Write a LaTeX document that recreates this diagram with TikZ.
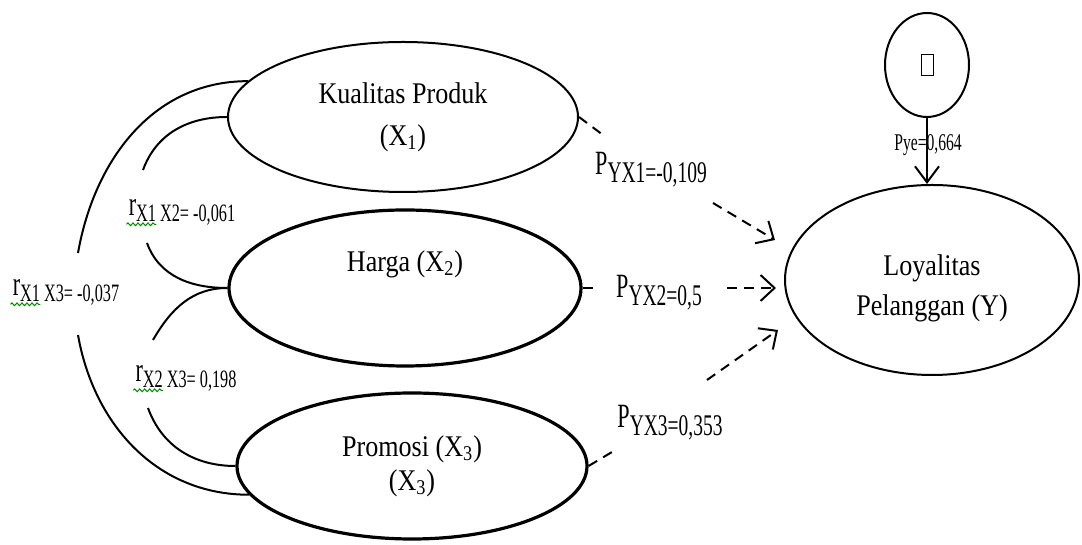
\documentclass[tikz,border=0pt]{standalone}
\usepackage{fontspec}
\setmainfont{Liberation Serif}[FakeStretch=0.87]
\newfontfamily\lblfont{Liberation Serif}[FakeStretch=0.65]
\usetikzlibrary{shapes.geometric,arrows.meta,decorations.pathmorphing}

\begin{document}
\begin{tikzpicture}[x=0.5pt, y=0.5pt,
    latent/.style={ellipse, draw, line width=1pt, inner sep=0pt, align=center, font=\fontsize{15}{21}\selectfont},
    corr/.style={line width=1pt},
    pathline/.style={line width=1pt, dash pattern=on 5pt off 3.5pt},
    tip/.style={-{Straight Barb[length=7pt,width=13pt]}},
    coef/.style={inner sep=1pt, font=\lblfont\fontsize{17}{17}\selectfont},
    squiggle/.style={green!55!black, line width=0.5pt, decorate, decoration={snake, amplitude=0.7pt, segment length=2.5pt}}]

    \useasboundingbox (0,0) rectangle (1082,545);

    % Variables
    \node[latent, minimum width=175pt, minimum height=75pt] (x1) at (403,428) {Kualitas Produk\\(X\textsubscript{1})};
    \node[latent, line width=1.6pt, minimum width=176pt, minimum height=78pt] (x2) at (405,257) {Harga (X\textsubscript{2})\\\strut};
    \node[latent, line width=1.6pt, minimum width=175pt, minimum height=73pt, font=\fontsize{15}{17}\selectfont] (x3) at (412,79) {Promosi (X\textsubscript{3})\\(X\textsubscript{3})};
    \node[latent, minimum width=147pt, minimum height=95pt, font=\fontsize{15}{20}\selectfont] (y) at (932,265)
        {\raisebox{-4pt}[\height][\depth]{Loyalitas}\\\raisebox{-4pt}[\height][\depth]{Pelanggan (Y)}};
    \node[latent, minimum width=42pt, minimum height=52pt] (e) at (927,480) {\fboxsep=0pt\fboxrule=0.5pt\fbox{\rule{0pt}{10pt}\hspace{5.5pt}}};

    % Correlations
    \coordinate (g13a) at (78,292);
    \coordinate (g13b) at (78,210);
    \draw[corr] (x1.167) to[out=180,in=80] (g13a);
    \draw[corr] (g13b) to[out=-80,in=180] (x3.190);

    \coordinate (g12a) at (143,375);
    \coordinate (g12b) at (147,302);
    \draw[corr] (x1.west) to[out=180,in=70] (g12a);
    \draw[corr] (g12b) to[out=-70,in=180] (x2.west);

    \coordinate (g23a) at (153,205);
    \coordinate (g23b) at (148,137);
    \draw[corr] (x2.west) to[out=180,in=60] (g23a);
    \draw[corr] (g23b) to[out=-70,in=180] (x3.west);

    \node[coef] (r13) at (66,253) {r\raisebox{-3pt}{\fontsize{12.5}{13}\selectfont X1 X3= -0,037}};
    \node[coef] (r12) at (182,333) {r\raisebox{-3pt}{\fontsize{12.5}{13}\selectfont X1 X2= -0,061}};
    \node[coef] (r23) at (186,167) {r\raisebox{-3pt}{\fontsize{12.5}{13}\selectfont X2 X3= 0,198}};
    \draw[squiggle] ([yshift=1.5pt]r13.south west) -- ++(30,0);
    \draw[squiggle] ([yshift=1.5pt]r12.south west) -- ++(30,0);
    \draw[squiggle] ([yshift=1.5pt]r23.south west) -- ++(30,0);

    % Paths to Y
    \coordinate (p1a) at (603,410);
    \coordinate (p1b) at (713,342);
    \coordinate (p1t) at (775,305);
    \draw[pathline] (x1.east) -- (p1a);
    \draw[pathline, tip] (p1b) -- (p1t);
    \node[coef] (p1) at (651,375) {P\raisebox{-4pt}{\fontsize{15}{15}\selectfont YX1=-0,109}};

    \coordinate (p2a) at (599,257);
    \coordinate (p2b) at (727,257);
    \coordinate (p2t) at (776,257);
    \draw[pathline] (x2.east) -- (p2a);
    \draw[pathline, tip] (p2b) -- (p2t);
    \node[coef] (p2) at (659,252) {P\raisebox{-4pt}{\fontsize{15}{15}\selectfont YX2=0,5}};

    \coordinate (p3a) at (612,93);
    \coordinate (p3b) at (707,165);
    \coordinate (p3t) at (778,215);
    \draw[pathline] (x3.east) -- (p3a);
    \draw[pathline, tip] (p3b) -- (p3t);
    \node[coef] (p3) at (670,122) {P\raisebox{-4pt}{\fontsize{15}{15}\selectfont YX3=0,353}};

    % Error term
    \draw[line width=1pt, -{Straight Barb[length=8pt,width=12pt]}] (e.south) -- (e.south |- y.north);
    \node[coef, font=\lblfont\fontsize{12}{12}\selectfont] (pe) at (928,400) {Pye=0,664};
\end{tikzpicture}
\end{document}
